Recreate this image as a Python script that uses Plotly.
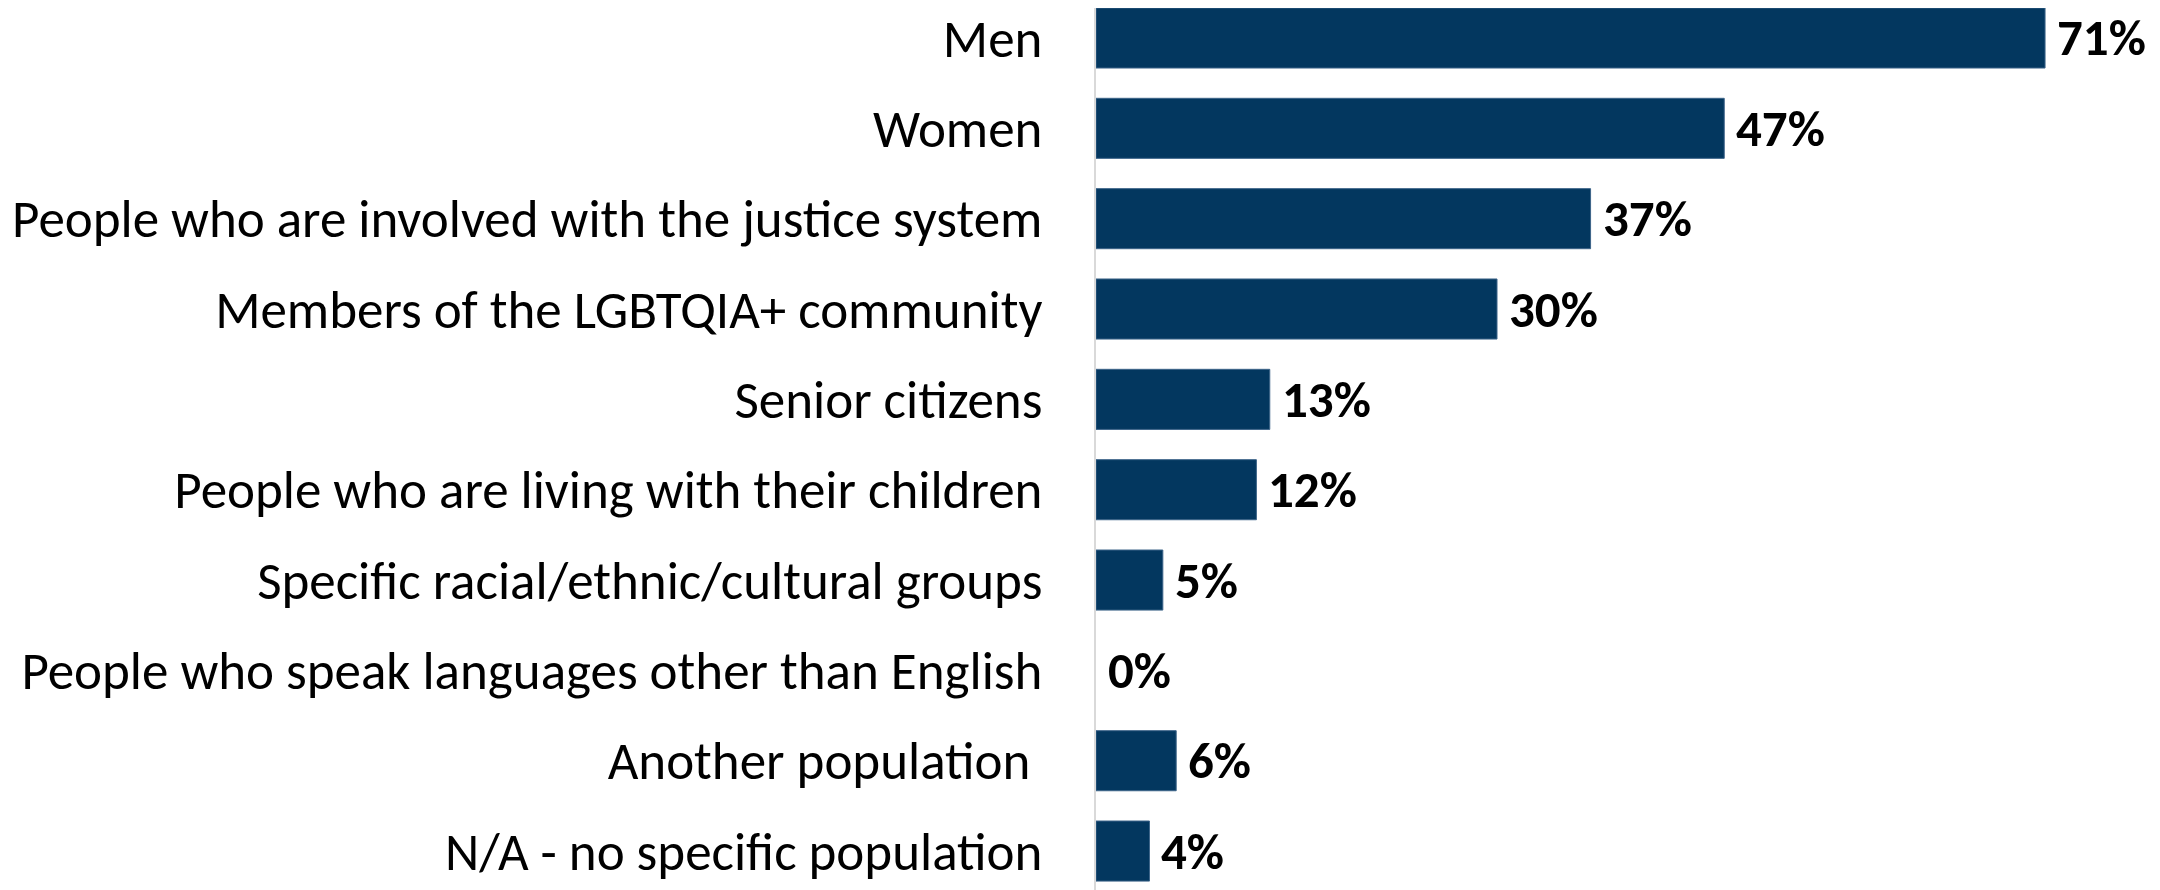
import plotly.graph_objects as go

categories = [
    "Men",
    "Women",
    "People who are involved with the justice system",
    "Members of the LGBTQIA+ community",
    "Senior citizens",
    "People who are living with their children",
    "Specific racial/ethnic/cultural groups",
    "People who speak languages other than English",
    "Another population\u00a0",
    "N/A - no specific population",
]
values = [71, 47, 37, 30, 13, 12, 5, 0, 6, 4]
value_labels = ["71%", "47%", "37%", "30%", "13%", "12%", "5%", "0%", "6%", "4%"]

FONT = "Carlito, 'Liberation Sans Narrow', 'Noto Sans', sans-serif"
BAR = "#03375f"

fig = go.Figure()
fig.add_trace(go.Bar(
    x=values,
    y=categories,
    orientation="h",
    marker=dict(color=BAR, line=dict(color="#3d6489",
                                     width=[1 if v > 0 else 0 for v in values])),
    hoverinfo="skip",
))

for c, v, t in zip(categories, values, value_labels):
    fig.add_annotation(
        x=v, y=c, xref="x", yref="y",
        text="<b>" + t + "</b>",
        showarrow=False, xanchor="left", yanchor="middle",
        xshift=11, borderpad=0,
        font=dict(family=FONT, size=51, color="#000000"),
    )

fig.update_layout(
    width=2152, height=882,
    margin=dict(l=1088, r=0, t=0, b=0, autoexpand=False),
    paper_bgcolor="white", plot_bgcolor="white",
    showlegend=False,
    bargap=0.335,
    font=dict(family=FONT, size=53, color="#000000"),
)
fig.update_xaxes(range=[0, 79.6], visible=False, showgrid=False, zeroline=False)
fig.update_yaxes(
    categoryorder="array", categoryarray=categories,
    range=[9.431, -0.332],
    automargin=False,
    showline=True, linecolor="#d9d9d9", linewidth=2,
    showgrid=False, zeroline=False,
    ticks="", ticklabelstandoff=41,
    tickfont=dict(family=FONT, size=53, color="#000000"),
)

fig.write_html("out.html")
